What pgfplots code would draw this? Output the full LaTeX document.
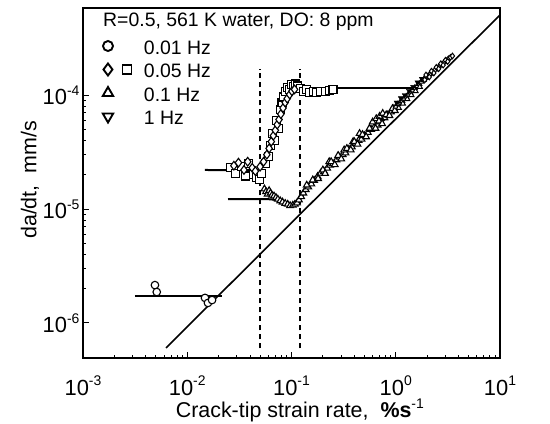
\documentclass[border=0pt]{standalone}
\usepackage{fontspec}
\setmainfont{Liberation Sans}
\usepackage{pgfplots}
\pgfplotsset{compat=1.18}

\newcommand\sups[1]{\raisebox{0.42em}{\fontsize{14}{14}\selectfont #1}}
\newcommand\tl[1]{10\sups{#1}}

\pgfplotsset{
  opn/.style={only marks, mark size=3.8bp, every mark/.append style={line width=1.1bp, fill=white, draw=black}},
  band/.style={only marks, mark size=3bp, every mark/.append style={line width=1bp, fill=white, draw=black}},
  lgone/.style={legend image code/.code={
      \draw[##1, every mark/.append style={line width=1.9bp, fill=white}] plot coordinates {(7bp,1bp)};
      \path[draw=none, fill=none] (0bp,0bp) rectangle (32bp,14bp);}},
  lgtwo/.style={legend image code/.code={
      \draw[only marks, mark=diamond*, mark size=6bp, every mark/.append style={line width=1.9bp, fill=white}] plot coordinates {(7bp,1bp)};
      \draw[only marks, mark=square*, mark size=4.5bp, every mark/.append style={line width=1.7bp, fill=white}] plot coordinates {(26bp,1bp)};
      \path[draw=none, fill=none] (0bp,0bp) rectangle (32bp,14bp);}},
}

\begin{document}
\begin{tikzpicture}
\useasboundingbox (-83bp,-66bp) rectangle (467bp,358bp);
\begin{axis}[
  xmode=log, ymode=log,
  scale only axis, width=417bp, height=350bp,
  xmin=1e-3, xmax=10, ymin=4.93e-7, ymax=5.8e-4,
  axis line style={line width=1.7bp},
  tick pos=left, tick align=inside,
  major tick length=6bp, minor tick length=3.5bp,
  every tick/.style={line width=1bp, black},
  xtick={1e-3,1e-2,1e-1,1,10},
  xticklabels={\tl{-3},\tl{-2},\tl{-1},\tl{0},\tl{1}},
  ytick={1e-6,1e-5,1e-4},
  yticklabels={\tl{-6},\tl{-5},\tl{-4}},
  tick label style={font=\fontsize{22}{26}\selectfont},
  xticklabel style={anchor=base, yshift=-37bp},
  xlabel={Crack-tip strain rate,\ \ \textbf{\%s}\sups{-1}},
  ylabel={da/dt,\ \ mm/s},
  label style={font=\fontsize{21.5}{26}\selectfont},
  xlabel style={at={(axis description cs:0.52,0)}, anchor=base, yshift=-59bp},
  ylabel style={at={(axis description cs:-0.127,0.509)}, anchor=center},
  legend style={at={(rel axis cs:0,1)}, anchor=north west, xshift=18bp, yshift=-25bp,
    draw=none, fill=none, inner sep=0pt, outer sep=0pt, row sep=2.5bp,
    font=\fontsize{19.5}{23}\selectfont,
    nodes={inner sep=0pt, text height=14bp, text depth=0bp},
    /tikz/every odd column/.append style={column sep=11bp}},
  legend cell align=left,
]

% legend symbols
\addlegendimage{lgone, only marks, mark=*, mark size=5bp}
\addlegendentry{0.01 Hz}
\addlegendimage{lgtwo}
\addlegendentry{0.05 Hz}
\addlegendimage{lgone, only marks, mark=triangle*, mark size=6bp}
\addlegendentry{0.1 Hz}
\addlegendimage{lgone, only marks, mark=triangle*, mark size=6bp, mark options={rotate=180}}
\addlegendentry{1 Hz}

% dashed guide lines
\addplot[black, line width=1.6bp, dash pattern=on 5.5bp off 3.5bp] coordinates {(0.05,6.0e-7) (0.05,1.7e-4)};
\addplot[black, line width=1.6bp, dash pattern=on 5.5bp off 3.5bp] coordinates {(0.12,6.0e-7) (0.12,1.7e-4)};

% 0.01 Hz
\addplot[opn, mark=*] coordinates {
(0.0049,2.15e-6) (0.0051,1.87e-6) (0.0148,1.66e-6) (0.0158,1.5e-6) (0.0173,1.59e-6)
};

% 0.05 Hz squares
\addplot[opn, mark=square*, mark size=4bp] coordinates {
(0.026,2.3e-5) (0.029,2.05e-5) (0.033,2.35e-5) (0.036,1.95e-5) (0.039,2.5e-5) (0.043,2.0e-5)
(0.046,1.9e-5) (0.049,1.8e-5) (0.052,2.05e-5) (0.056,2.5e-5) (0.060,2.9e-5) (0.063,3.6e-5)
(0.066,4.6e-5) (0.069,4.0e-5) (0.072,6.0e-5) (0.075,5.1e-5) (0.078,7.5e-5) (0.081,8.6e-5)
(0.084,9.6e-5) (0.088,1.07e-4) (0.092,1.17e-4) (0.096,1.12e-4) (0.100,1.23e-4) (0.105,1.19e-4)
(0.110,1.25e-4) (0.115,1.2e-4) (0.122,1.15e-4) (0.130,1.08e-4) (0.140,1.12e-4) (0.150,1.06e-4)
(0.162,1.08e-4) (0.175,1.05e-4) (0.190,1.08e-4) (0.210,1.07e-4) (0.230,1.1e-4) (0.250,1.12e-4)
};
% 0.05 Hz diamonds
\addplot[opn, mark=diamond*, mark size=4.3bp] coordinates {
(0.028,2.4e-5) (0.031,2.55e-5) (0.035,2.2e-5) (0.038,2.6e-5) (0.042,2.3e-5) (0.045,2.15e-5)
(0.050,2.35e-5) (0.054,2.6e-5) (0.058,3.0e-5) (0.061,3.4e-5) (0.064,3.9e-5) (0.067,4.4e-5)
(0.070,4.9e-5) (0.073,5.5e-5) (0.076,6.1e-5) (0.079,6.8e-5) (0.083,7.7e-5) (0.087,8.6e-5)
(0.091,9.3e-5) (0.096,1.01e-4) (0.101,1.08e-4) (0.107,1.12e-4)
};

% 0.1 Hz triangles
\addplot[opn, mark=triangle*] coordinates {
(0.055,1.5e-5) (0.057,1.42e-5) (0.059,1.35e-5) (0.061,1.45e-5) (0.063,1.38e-5) (0.065,1.32e-5)
(0.068,1.3e-5) (0.071,1.26e-5) (0.074,1.22e-5) (0.078,1.18e-5) (0.082,1.15e-5) (0.087,1.12e-5)
(0.092,1.1e-5) (0.097,1.07e-5) (0.103,1.08e-5) (0.108,1.1e-5) (0.113,1.13e-5) (0.118,1.2e-5)
(0.124,1.28e-5) (0.130,1.38e-5) (0.137,1.48e-5) (0.145,1.56e-5) (0.155,1.66e-5) (0.165,1.78e-5)
(0.178,1.93e-5) (0.190,2.06e-5) (0.205,2.14e-5) (0.220,2.28e-5) (0.235,2.42e-5) (0.250,2.5e-5)
(0.270,2.7e-5) (0.290,2.85e-5) (0.310,3.0e-5) (0.330,3.1e-5) (0.355,3.35e-5) (0.380,3.5e-5)
(0.410,3.75e-5) (0.440,4.0e-5) (0.470,4.1e-5) (0.500,4.4e-5) (0.540,4.7e-5) (0.580,5.0e-5)
(0.620,5.2e-5) (0.670,5.45e-5) (0.720,5.8e-5) (0.780,6.3e-5) (0.840,6.7e-5) (0.900,7.1e-5)
(0.960,7.6e-5) (0.450,4.6e-5) (0.600,5.8e-5) (0.650,6.2e-5) (0.700,6.5e-5) (0.750,6.9e-5)
(0.230,2.6e-5) (0.320,3.3e-5) (0.390,3.9e-5)
(0.140,1.62e-5) (0.160,1.8e-5) (0.180,1.85e-5) (0.200,2.2e-5) (0.210,2.05e-5) (0.240,2.6e-5)
(0.260,2.45e-5) (0.280,2.95e-5) (0.300,2.75e-5) (0.340,3.4e-5) (0.370,3.3e-5) (0.400,3.9e-5)
(0.430,3.7e-5) (0.480,4.5e-5) (0.520,4.3e-5) (0.560,5.1e-5) (0.640,5.1e-5) (0.690,5.9e-5)
(0.740,5.6e-5) (0.810,6.7e-5) (0.870,6.6e-5) (0.930,7.6e-5) (0.980,7.3e-5)
};
% high strain-rate band
\addplot[band, mark=triangle*] coordinates {
(1.00,7.9e-5) (1.05,8.3e-5) (1.10,8.6e-5) (1.15,8.9e-5) (1.20,9.3e-5) (1.26,9.7e-5)
(1.32,1.01e-4) (1.38,1.05e-4) (1.45,1.1e-4) (1.52,1.15e-4) (1.60,1.2e-4) (1.68,1.25e-4)
(1.76,1.31e-4) (1.85,1.36e-4) (1.95,1.42e-4) (1.07,7.7e-5) (1.17,8.4e-5) (1.29,9.2e-5)
(1.41,1.0e-4) (1.55,1.08e-4) (1.70,1.18e-4)
};
\addplot[band, mark=triangle*, mark options={rotate=180}] coordinates {
(1.02,8.6e-5) (1.12,9.4e-5) (1.22,1.0e-4) (1.34,1.09e-4) (1.47,1.18e-4) (1.62,1.29e-4)
(1.78,1.39e-4)
};
\addplot[band, mark=diamond*, mark size=2.8bp] coordinates {
(1.90,1.36e-4) (2.00,1.45e-4) (2.05,1.48e-4) (2.15,1.53e-4) (2.25,1.58e-4) (2.37,1.65e-4)
(2.50,1.72e-4) (2.63,1.8e-4) (2.76,1.86e-4) (2.90,1.93e-4) (3.05,2.0e-4) (3.20,2.08e-4)
(3.35,2.14e-4) (3.50,2.2e-4) (2.20,1.62e-4) (2.45,1.75e-4) (2.70,1.88e-4) (3.00,2.02e-4)
(1.95,1.5e-4) (2.10,1.44e-4) (2.32,1.56e-4) (2.58,1.7e-4) (2.85,1.83e-4) (3.15,1.97e-4)
};

% fitted curves
\addplot[black, line width=2bp] coordinates {(0.00315,1.73e-6) (0.0215,1.73e-6)};
\addplot[black, line width=2bp, smooth] coordinates {
(0.0148,2.2e-5) (0.045,2.2e-5) (0.05,2.3e-5) (0.056,2.7e-5) (0.0634,3.7e-5) (0.0718,5.2e-5)
(0.0796,7.0e-5) (0.0883,9.1e-5) (0.098,1.07e-4) (0.109,1.14e-4) (0.12,1.15e-4)
};
\addplot[black, line width=2bp] coordinates {(0.12,1.15e-4) (1.52,1.15e-4)};
\addplot[black, line width=2bp, smooth] coordinates {
(0.0246,1.22e-5) (0.0557,1.22e-5) (0.066,1.21e-5) (0.075,1.18e-5) (0.085,1.13e-5) (0.1,1.1e-5)
(0.11,1.12e-5) (0.12,1.2e-5) (0.13,1.35e-5) (0.148,1.6e-5) (0.19,2.05e-5) (0.25,2.5e-5)
(0.3,2.9e-5) (0.38,3.5e-5) (0.47,4.15e-5) (0.6,5.1e-5) (0.75,5.9e-5) (0.92,7.2e-5)
(1.18,9.2e-5) (1.52,1.15e-4) (1.87,1.38e-4) (2.3,1.62e-4) (2.83,1.91e-4) (3.48,2.2e-4)
};
% diagonal line
\addplot[black, line width=1.6bp] coordinates {(0.00625,6.04e-7) (10,5.04e-4)};

\node[anchor=west, inner sep=0pt, font=\fontsize{19.5}{23}\selectfont]
  at (rel axis cs:0,1) [xshift=20bp, yshift=-14bp] {R=0.5, 561 K water, DO: 8 ppm};
\end{axis}
\end{tikzpicture}
\end{document}
